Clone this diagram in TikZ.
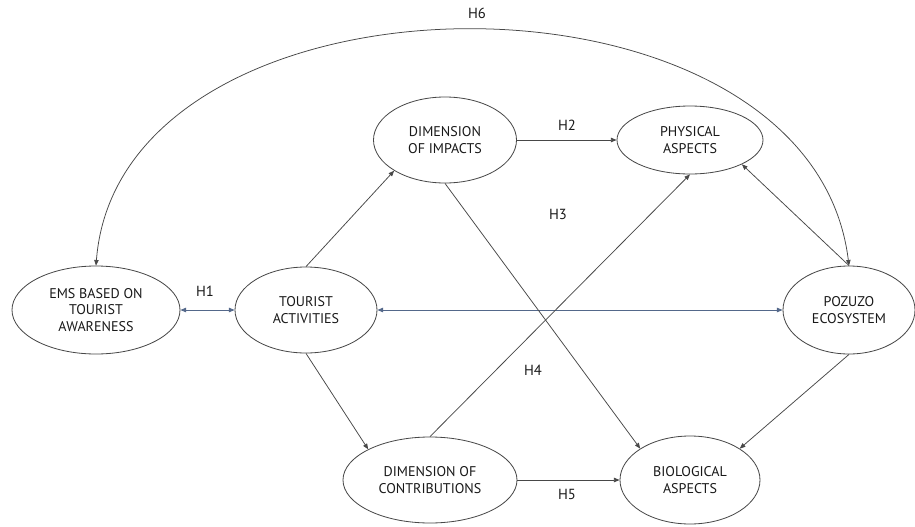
\documentclass[tikz,border=0pt]{standalone}
\usepackage{fontspec}
\setmainfont{PT Sans}
\usetikzlibrary{arrows.meta,shapes.geometric}
\definecolor{edgegray}{RGB}{72,72,72}
\definecolor{slateblue}{RGB}{84,104,138}

\begin{document}
\begin{tikzpicture}[x=0.03cm, y=-0.03cm,
    construct/.style={draw=edgegray, line width=0.7pt, ellipse, inner sep=0pt, align=center,
        text=black!90, font=\fontsize{12}{13.8}\selectfont},
    link/.style={-{Triangle[length=4.8pt,width=3.8pt]}, line width=0.65pt, edgegray},
    bilink/.style={{Triangle[length=4.8pt,width=3.8pt]}-{Triangle[length=4.8pt,width=3.8pt]}, line width=0.65pt, edgegray},
    bluelink/.style={{Triangle[length=4.8pt,width=3.8pt]}-{Triangle[length=4.8pt,width=3.8pt]}, line width=0.7pt, slateblue},
    hyp/.style={text=black!90, font=\fontsize{12.5}{14}\selectfont}]

    \useasboundingbox (0,0) rectangle (915,526);

    % constructs
    \node[construct, minimum width=5.04cm, minimum height=2.64cm] (ems) at (96,310) {EMS BASED ON\\TOURIST\\AWARENESS};
    \node[construct, minimum width=4.26cm, minimum height=2.58cm] (tourist) at (306,310) {TOURIST\\ACTIVITIES};
    \node[construct, minimum width=4.29cm, minimum height=2.58cm] (impact) at (445,140) {DIMENSION\\OF IMPACTS};
    \node[construct, minimum width=4.38cm, minimum height=2.04cm] (physical) at (690,140) {PHYSICAL\\ASPECTS};
    \node[construct, minimum width=3.96cm, minimum height=2.64cm] (pozuzo) at (849,310) {POZUZO\\ECOSYSTEM};
    \node[construct, minimum width=5.22cm, minimum height=2.58cm] (contrib) at (430,480) {DIMENSION OF\\CONTRIBUTIONS};
    \node[construct, minimum width=4.2cm, minimum height=2.64cm] (bio) at (690,480) {BIOLOGICAL\\ASPECTS};

    % hypotheses
    \node[hyp] (h1) at (205,291) {H1};
    \node[hyp] (h2) at (567,125) {H2};
    \node[hyp] (h3) at (558,214) {H3};
    \node[hyp] (h4) at (533,370) {H4};
    \node[hyp] (h5) at (567,494) {H5};
    \node[hyp] (h6) at (477,13) {H6};

    % paths
    \draw[bluelink] (ems.east) -- (tourist.west);
    \draw[bluelink] (tourist.east) -- (pozuzo.west);
    \draw[link] (tourist.north) -- (impact.south west);
    \draw[link] (tourist.south) -- (contrib.north west);
    \draw[link] (impact.east) -- (physical.west);
    \draw[link] (impact.south) -- (bio.north west);
    \draw[link] (contrib.north) -- (physical.south);
    \draw[link] (contrib.east) -- (bio.west);
    \draw[link] (pozuzo.north) -- (physical.south east);
    \draw[link] (pozuzo.south) -- (bio.north east);
    \draw[bilink] (ems.north) .. controls (120,-45) and (810,-52) .. (pozuzo.north);

\end{tikzpicture}
\end{document}
